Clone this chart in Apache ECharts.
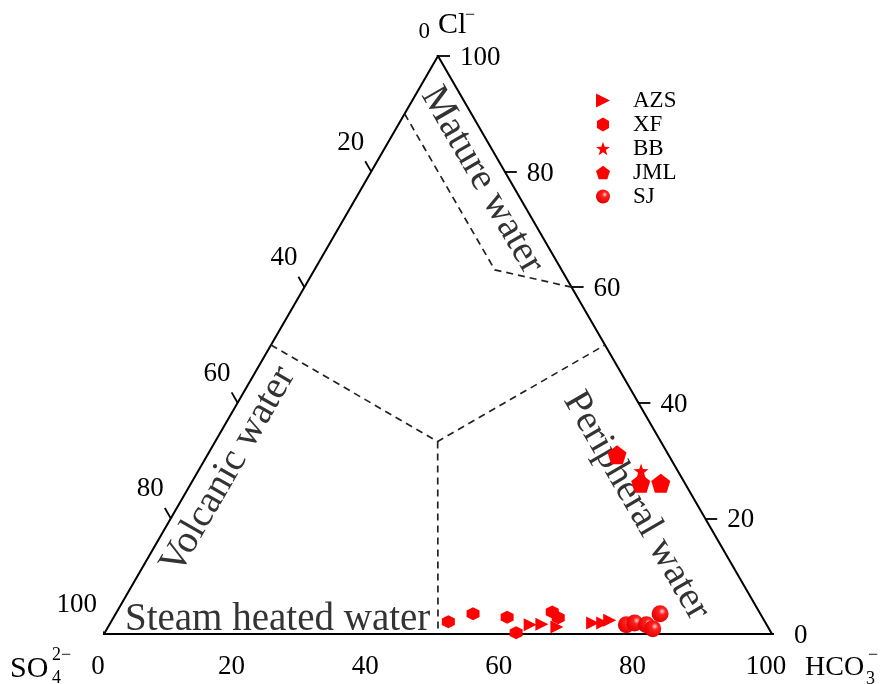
<!DOCTYPE html>
<html><head><meta charset="utf-8">
<script src="https://cdn.jsdelivr.net/npm/echarts@6/dist/echarts.min.js"></script>
<style>html,body{margin:0;padding:0;background:#fff}#c{width:883px;height:684px}</style>
</head><body><div id="c"></div>
<script>
const S = Math.sqrt(3) / 2;
const FONT = "'Liberation Serif','Times New Roman',serif";
// tick values (percent) and labels
const tickValues = [0, 20, 40, 60, 80, 100];
const tickLabels = ['0', '20', '40', '60', '80', '100'];
// samples: [Cl, SO4, HCO3] in percent
const AZS = [[1.6,35.4,63.0],[1.7,33.6,64.7],[1.2,31.6,67.2],[1.9,25.9,72.2],[1.9,24.4,73.7],[2.4,23.1,74.5]];
const XF  = [[2.1,47.4,50.5],[3.5,43.0,53.5],[2.9,38.2,58.9],[0.2,38.2,61.6],[3.8,31.0,65.2],[2.8,30.6,66.6]];
const BB  = [[28.2,5.5,66.3]];
const JML = [[31.0,7.7,61.3],[26.1,6.6,67.3],[26.1,3.6,70.3]];
const SJ  = [[1.6,21.0,77.4],[1.9,19.6,78.5],[1.6,18.0,80.4],[0.9,17.4,81.7],[3.5,15.0,81.5]];
// region boundaries [Cl, SO4, HCO3]
const matureLine   = [[90,10,0],[63,10,27],[60,0,40]];
const volcanicLine = [[50,50,0],[33.3,33.3,33.3],[50,0,50]];
const steamLine    = [[33.3,33.3,33.3],[0,50,50]];
const frame = [[0,100,0],[0,0,100],[100,0,0],[0,100,0]];

function tern(p){ return [(p[2] + p[0]/2)/100, p[0]*S/100]; }

const TL = 12/668;
const tickLines = [];
const labelPts = [];
tickValues.forEach((t,i)=>{
  // bottom: HCO3
  let b = tern([0,100-t,t]);
  tickLines.push({coords:[b,[b[0]-0.5*TL,b[1]-S*TL]]});
  labelPts.push({value:b, label:{formatter:tickLabels[i], align:'center', verticalAlign:'middle', offset:[-6,33]}});
  // left: SO4
  let l = tern([100-t,t,0]);
  tickLines.push({coords:[l,[l[0]-0.5*TL,l[1]+S*TL]]});
  labelPts.push({value:l, label:{formatter:tickLabels[i], align:'right', verticalAlign:'middle', offset: t===0?[-8,-24]:[-7,-29], fontSize: t===0?23:27}});
  // right: Cl
  let r = tern([t,0,100-t]);
  tickLines.push({coords:[r,[r[0]+TL,r[1]]]});
  labelPts.push({value:r, label:{formatter:tickLabels[i], align:'left', verticalAlign:'middle', offset:[22,2]}});
});

const regionText = [
  {name:'Mature water', pos:[0.566,0.680], rot:-60, align:'center'},
  {name:'Peripheral water', pos:[0.797,0.192], rot:-60, align:'center'},
  {name:'Volcanic water', pos:[0.186,0.2455], rot:60, align:'center'},
  {name:'Steam heated water', pos:[0.0314,0.021], rot:0, align:'left'}
];

const hexPath = 'path://M0,-1L0.866,-0.5L0.866,0.5L0,1L-0.866,0.5L-0.866,-0.5Z';
const pentPath = 'path://M0,-1L0.951,-0.309L0.588,0.809L-0.588,0.809L-0.951,-0.309Z';
let sp = [];
for (let k=0;k<10;k++){ const a=(-90+k*36)*Math.PI/180; const r=k%2?0.4:1; sp.push((k?'L':'M')+(r*Math.cos(a)).toFixed(3)+','+(r*Math.sin(a)).toFixed(3)); }
const starPath = 'path://'+sp.join('')+'Z';
const triPath = 'path://M0,0L10,5L0,10Z';
const RED = '#ff0000';
const sphere = {type:'radial', x:0.62, y:0.36, r:0.65, colorStops:[{offset:0,color:'#ffd8d8'},{offset:0.3,color:'#ff2020'},{offset:1,color:'#e00000'}]};

function scat(name, data, symbol, size, color){
  return {type:'scatter', name, data:data.map(tern), symbol, symbolSize:size, itemStyle:{color:color||RED, opacity:1}, z:5};
}

const chart = echarts.init(document.getElementById('c'));
chart.setOption({
  animation:false,
  backgroundColor:'#fff',
  grid:{left:104, top:56, width:668, height:578},
  xAxis:{type:'value', min:0, max:1, show:false},
  yAxis:{type:'value', min:0, max:S, show:false},
  legend:{orient:'vertical', left:591, top:84, itemWidth:14, itemHeight:14, itemGap:1,
    textStyle:{fontFamily:FONT, fontSize:23, color:'#000', padding:[0,0,0,18]},
    data:['AZS','XF','BB','JML','SJ']},
  series:[
    {type:'line', data:frame.map(tern), symbol:'none', lineStyle:{color:'#000', width:2}, silent:true, z:2},
    {type:'line', data:matureLine.map(tern), symbol:'none', lineStyle:{color:'#222', width:1.7, type:[7,5]}, silent:true},
    {type:'line', data:volcanicLine.map(tern), symbol:'none', lineStyle:{color:'#222', width:1.7, type:[7,5]}, silent:true},
    {type:'line', data:steamLine.map(tern), symbol:'none', lineStyle:{color:'#222', width:1.7, type:[7,5]}, silent:true},
    {type:'lines', coordinateSystem:'cartesian2d', data:tickLines, lineStyle:{color:'#000', width:1.8, opacity:1}, silent:true},
    {type:'scatter', data:labelPts, symbolSize:1, itemStyle:{color:'rgba(0,0,0,0)', opacity:1}, silent:true,
      label:{show:true, position:'inside', fontFamily:FONT, fontSize:27, color:'#000'}},
    {type:'scatter', data:regionText.map(d=>({value:d.pos, label:{formatter:d.name, rotate:d.rot, align:d.align}})),
      symbolSize:1, itemStyle:{color:'rgba(0,0,0,0)', opacity:1}, silent:true,
      label:{show:true, position:'inside', verticalAlign:'middle', fontFamily:FONT, fontSize:39, color:'#333'}},
    scat('AZS', AZS, triPath, 13),
    scat('XF', XF, hexPath, 13),
    scat('BB', BB, starPath, 15),
    scat('JML', JML, pentPath, 19),
    scat('SJ', SJ, 'circle', 17, sphere)
  ],
  graphic:[
    {type:'text', x:438, y:25, style:{text:'Cl', fontFamily:FONT, fontSize:30, fill:'#000', verticalAlign:'middle'}},
    {type:'text', x:465, y:15, style:{text:'\u2212', fontFamily:FONT, fontSize:18, fill:'#000', verticalAlign:'middle'}},
    {type:'text', x:10, y:669, style:{text:'SO', fontFamily:FONT, fontSize:30, fill:'#000', verticalAlign:'middle'}},
    {type:'text', x:52, y:678, style:{text:'4', fontFamily:FONT, fontSize:18, fill:'#000', verticalAlign:'middle'}},
    {type:'text', x:52, y:655, style:{text:'2\u2212', fontFamily:FONT, fontSize:18, fill:'#000', verticalAlign:'middle'}},
    {type:'text', x:805, y:668, style:{text:'HCO', fontFamily:FONT, fontSize:28, fill:'#000', verticalAlign:'middle'}},
    {type:'text', x:866, y:679, style:{text:'3', fontFamily:FONT, fontSize:18, fill:'#000', verticalAlign:'middle'}},
    {type:'text', x:868, y:655, style:{text:'\u2212', fontFamily:FONT, fontSize:18, fill:'#000', verticalAlign:'middle'}}
  ]
});
</script></body></html>
